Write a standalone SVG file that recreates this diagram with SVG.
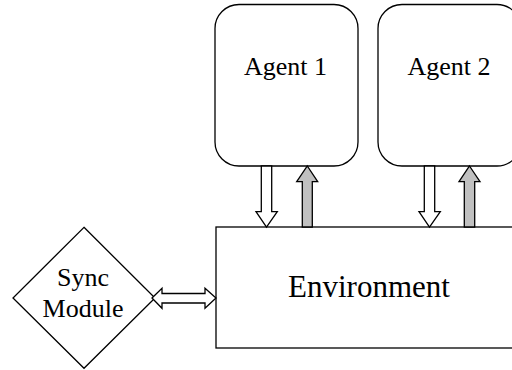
<svg xmlns="http://www.w3.org/2000/svg" width="512" height="370" viewBox="0 0 512 370">
<style>
.box{fill:#fff;stroke:#000;stroke-width:1.3}
.lbl{font-family:"Liberation Serif","Times New Roman",serif;fill:#000;text-anchor:middle}
.wa{fill:#fff;stroke:#000;stroke-width:1.3;stroke-linejoin:miter}
.ga{fill:#c0c0c0;stroke:#000;stroke-width:1.3;stroke-linejoin:miter}
</style>
<rect width="512" height="370" fill="#fff"/>
<g id="agent1">
<rect class="box" x="215" y="4.5" width="143" height="161.5" rx="24" ry="24"/>
<text class="lbl" x="285.5" y="75" font-size="26">Agent 1</text>
</g>
<g id="agent2">
<rect class="box" x="378" y="4.5" width="143" height="161.5" rx="24" ry="24"/>
<text class="lbl" x="449" y="75" font-size="26">Agent 2</text>
</g>
<g id="environment">
<rect class="box" x="216" y="227" width="306" height="121"/>
<text class="lbl" x="369" y="296.5" font-size="31">Environment</text>
</g>
<g id="sync">
<polygon class="box" points="84,227.3 155,298 84,368.3 13,298"/>
<text class="lbl" x="83" y="286" font-size="26">Sync</text>
<text class="lbl" x="83" y="316.5" font-size="26">Module</text>
</g>
<g id="connectors">
<polygon class="wa" points="152,298 162,288.3 162,293.5 205,293.5 205,288.3 216,298 205,308.3 205,303 162,303 162,308.3"/>
<polygon class="wa" points="261.3,166 271.7,166 271.7,211.7 277.3,211.7 266.5,227 256,211.7 261.3,211.7"/>
<polygon class="ga" points="307.3,166 317.7,181.7 312.3,181.7 312.3,227 302.3,227 302.3,181.7 296.7,181.7"/>
<polygon class="wa" points="424.3,166 434.7,166 434.7,211.7 440.3,211.7 429.5,227 419,211.7 424.3,211.7"/>
<polygon class="ga" points="469.5,166 480,181.7 474.7,181.7 474.7,227 464.3,227 464.3,181.7 459,181.7"/>
</g>
</svg>
